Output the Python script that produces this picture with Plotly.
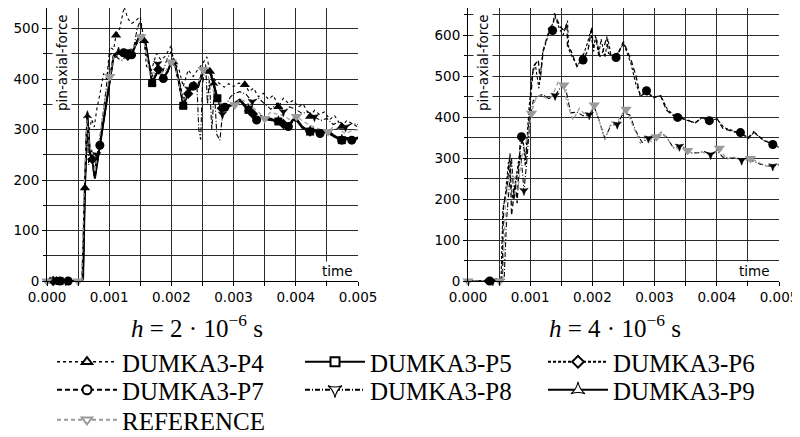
import plotly.graph_objects as go

# ---------------- data (time in ms, force values) ----------------
# left panel: h = 2e-6 s
L_P4_T = [0, 0.05, 0.3, 0.56, 0.61, 0.64, 0.68, 0.72, 0.76, 0.80, 0.85, 0.91, 0.96, 1.01, 1.07, 1.11, 1.17, 1.24, 1.30, 1.36,
          1.42, 1.50, 1.56, 1.60, 1.68, 1.76, 1.83, 1.90, 2.0, 2.03, 2.12, 2.19, 2.27, 2.35, 2.43, 2.50, 2.57, 2.62, 2.70, 2.78,
          2.85, 2.92, 3.0, 3.08, 3.18, 3.25, 3.32, 3.40, 3.48, 3.56, 3.64, 3.72, 3.80, 3.88, 3.96, 4.04, 4.12, 4.23, 4.30, 4.38,
          4.46, 4.55, 4.62, 4.74, 4.82, 4.90, 5.0]
L_P4_V = [0, 0, 0, 0, 184, 330, 300, 320, 305, 340, 370, 411, 400, 464, 458, 487, 500, 543, 520, 510,
          515, 524, 476, 425, 418, 451, 438, 445, 467, 434, 420, 385, 418, 405, 420, 430, 444, 415, 398, 391,
          384, 391, 385, 392, 389, 375, 382, 365, 372, 360, 368, 345, 362, 352, 358, 345, 350, 326, 338, 330,
          335, 320, 328, 306, 318, 312, 305]
L_P4_M = [0.05, 0.61, 1.11, 1.56, 2.03, 2.62, 3.18, 3.72, 4.23, 4.74]

L_P5_T = [0, 0.2, 0.4, 0.56, 0.58, 0.61, 0.65, 0.69, 0.73, 0.77, 0.85, 0.96, 1.07, 1.15, 1.23, 1.30, 1.36, 1.43, 1.50, 1.58,
          1.69, 1.79, 1.87, 1.94, 2.0, 2.06, 2.13, 2.19, 2.27, 2.35, 2.43, 2.51, 2.62, 2.68, 2.74, 2.81, 2.88, 2.99, 3.10, 3.24,
          3.31, 3.37, 3.44, 3.50, 3.60, 3.67, 3.72, 3.80, 3.88, 3.95, 4.01, 4.10, 4.17, 4.23, 4.31, 4.39, 4.46, 4.52, 4.60, 4.68,
          4.74, 4.82, 4.90, 5.0]
L_P5_V = [0, 0, 0, 0, 5, 185, 325, 253, 240, 203, 268, 358, 445, 452, 455, 450, 448, 470, 487, 474,
          392, 418, 401, 415, 434, 428, 390, 347, 372, 388, 385, 418, 415, 390, 362, 339, 344, 349, 358, 339,
          330, 318, 325, 322, 320, 316, 316, 312, 306, 318, 320, 305, 299, 296, 298, 292, 296, 296, 288, 282,
          279, 282, 279, 283]
L_P5_M = [0.2, 1.69, 2.19, 2.74, 3.24, 3.72, 4.23, 4.74]

L_P6_T = [0, 0.1, 0.3, 0.56, 0.58, 0.61, 0.65, 0.69, 0.73, 0.77, 0.85, 0.96, 1.07, 1.15, 1.23, 1.30, 1.36, 1.43, 1.50, 1.58,
          1.69, 1.79, 1.87, 1.94, 2.0, 2.06, 2.13, 2.19, 2.27, 2.35, 2.43, 2.51, 2.62, 2.68, 2.74, 2.81, 2.88, 2.99, 3.10, 3.24,
          3.31, 3.37, 3.44, 3.50, 3.60, 3.67, 3.72, 3.80, 3.88, 3.95, 4.01, 4.10, 4.17, 4.23, 4.31, 4.39, 4.46, 4.52, 4.60, 4.68,
          4.74, 4.82, 4.90, 5.0]
L_P6_V = [0, 0, 0, 0, 4, 183, 318, 250, 241, 206, 266, 352, 440, 448, 453, 446, 447, 466, 482, 470,
          396, 419, 403, 417, 431, 425, 386, 350, 371, 389, 386, 414, 412, 386, 361, 342, 346, 352, 357, 338,
          331, 320, 324, 321, 319, 317, 315, 311, 307, 315, 317, 304, 298, 296, 297, 293, 295, 293, 286, 282,
          280, 283, 281, 284]
L_P6_M = [0.1, 0.73, 1.30, 1.79, 2.27, 2.81, 3.31, 3.80, 4.23]

L_P7_T = [0, 0.21, 0.34, 0.56, 0.58, 0.61, 0.65, 0.69, 0.73, 0.77, 0.85, 0.96, 1.07, 1.15, 1.23, 1.30, 1.36, 1.43, 1.50, 1.58,
          1.69, 1.79, 1.87, 1.94, 2.0, 2.06, 2.13, 2.19, 2.27, 2.35, 2.43, 2.51, 2.62, 2.68, 2.74, 2.81, 2.86, 2.99, 3.10, 3.24,
          3.31, 3.37, 3.44, 3.50, 3.60, 3.67, 3.72, 3.80, 3.88, 3.95, 4.01, 4.10, 4.17, 4.23, 4.31, 4.39, 4.46, 4.52, 4.60, 4.68,
          4.74, 4.82, 4.90, 5.0]
L_P7_V = [0, 0, 0, 0, 3, 180, 322, 255, 242, 205, 269, 355, 443, 450, 452, 449, 448, 468, 485, 472,
          394, 416, 401, 414, 432, 426, 388, 349, 370, 386, 384, 416, 413, 388, 360, 341, 344, 350, 356, 337,
          328, 319, 323, 320, 318, 315, 314, 310, 306, 316, 318, 303, 298, 295, 296, 292, 294, 294, 287, 281,
          279, 281, 279, 282]
L_P7_M = [0.21, 0.34, 0.85, 1.23, 1.36, 1.87, 2.35, 2.86, 3.37, 3.88, 4.39, 4.74, 4.90]

L_P8_T = [0, 0.3, 0.56, 0.60, 0.64, 0.67, 0.72, 0.75, 0.80, 0.87, 0.95, 1.01, 1.07, 1.15, 1.22, 1.30, 1.38, 1.45, 1.50, 1.56,
          1.62, 1.70, 1.78, 1.85, 1.93, 2.0, 2.06, 2.13, 2.20, 2.28, 2.36, 2.41, 2.44, 2.47, 2.50, 2.55, 2.58, 2.61, 2.65, 2.69,
          2.73, 2.78, 2.82, 2.88, 2.95, 3.02, 3.10, 3.20, 3.30, 3.40, 3.50, 3.60, 3.70, 3.80, 3.90, 4.0, 4.10, 4.20, 4.30, 4.40,
          4.50, 4.60, 4.70, 4.80, 4.90, 5.0]
L_P8_V = [0, 0, 0, 170, 325, 230, 260, 207, 250, 300, 380, 450, 450, 440, 437, 455, 452, 500, 515, 480,
          440, 405, 430, 410, 440, 455, 430, 390, 360, 380, 395, 390, 300, 280, 390, 430, 350, 400, 300, 380,
          290, 279, 330, 350, 365, 372, 375, 370, 355, 362, 350, 340, 352, 335, 345, 340, 332, 335, 325, 318,
          322, 310, 316, 305, 312, 310]
L_P8_M = [0.3, 0.80, 1.30, 1.78, 2.28, 2.82, 3.30, 3.80, 4.30, 4.80]

L_P9_T = [0, 0.15, 0.35, 0.56, 0.58, 0.61, 0.65, 0.69, 0.73, 0.77, 0.85, 0.96, 1.07, 1.15, 1.23, 1.30, 1.36, 1.43, 1.50, 1.58,
          1.69, 1.79, 1.87, 1.94, 2.0, 2.06, 2.13, 2.19, 2.27, 2.35, 2.43, 2.51, 2.62, 2.68, 2.74, 2.81, 2.88, 2.99, 3.10, 3.24,
          3.31, 3.37, 3.44, 3.50, 3.60, 3.67, 3.72, 3.80, 3.88, 3.95, 4.01, 4.10, 4.17, 4.23, 4.31, 4.39, 4.46, 4.52, 4.60, 4.68,
          4.74, 4.82, 4.90, 5.0]
L_P9_V = [0, 0, 0, 0, 6, 188, 328, 256, 243, 204, 270, 360, 447, 454, 456, 452, 450, 472, 488, 476,
          393, 420, 402, 416, 436, 430, 392, 348, 374, 390, 387, 420, 417, 392, 364, 340, 345, 351, 360, 341,
          332, 321, 327, 324, 322, 318, 318, 314, 308, 320, 322, 307, 301, 298, 300, 294, 298, 298, 290, 284,
          281, 284, 281, 285]
L_P9_M = [0.15, 0.65, 1.15, 1.69, 2.19, 2.68, 3.24, 3.72, 4.23, 4.74]

L_REF_T = [0, 0.5, 0.56, 0.6, 0.64, 0.68, 0.73, 0.77, 0.85, 0.93, 1.01, 1.07, 1.15, 1.23, 1.30, 1.38, 1.45, 1.51, 1.58, 1.66,
           1.74, 1.82, 1.90, 2.0, 2.06, 2.13, 2.20, 2.28, 2.36, 2.43, 2.51, 2.58, 2.66, 2.74, 2.82, 2.92, 3.02, 3.10, 3.20, 3.30,
           3.40, 3.50, 3.60, 3.70, 3.80, 3.90, 4.01, 4.10, 4.20, 4.30, 4.40, 4.52, 4.60, 4.70, 4.80, 4.90, 5.0]
L_REF_V = [0, 0, 0, 190, 320, 270, 250, 215, 290, 360, 405, 445, 455, 450, 455, 462, 470, 484, 465, 405,
           420, 410, 415, 434, 425, 385, 355, 380, 395, 390, 419, 410, 380, 360, 345, 350, 349, 360, 355, 345,
           335, 322, 335, 330, 328, 320, 326, 318, 310, 305, 300, 296, 305, 300, 292, 298, 300]
L_REF_M = [0, 0.5, 1.01, 1.51, 2.0, 2.51, 3.02, 3.50, 4.01, 4.52]

# right panel: h = 4e-6 s
R_P6_T = [0, 0.3, 0.53, 0.56, 0.60, 0.65, 0.68, 0.72, 0.78, 0.82, 0.88, 0.92, 0.98, 1.03, 1.08, 1.14, 1.20, 1.27, 1.33, 1.40,
          1.47, 1.53, 1.60, 1.62, 1.68, 1.76, 1.84, 1.92, 1.97, 2.02, 2.05, 2.10, 2.14, 2.20, 2.25, 2.30, 2.40, 2.50, 2.62, 2.70,
          2.78, 2.88, 2.98, 3.10, 3.20, 3.30, 3.40, 3.52, 3.65, 3.76, 3.88, 4.0, 4.12, 4.27, 4.38, 4.50, 4.60, 4.75, 4.90, 5.0]
R_P6_V = [0, 0, 0, 170, 210, 290, 250, 200, 260, 300, 360, 280, 420, 500, 530, 470, 555, 590, 615, 645,
          615, 600, 635, 565, 545, 525, 545, 580, 610, 560, 600, 550, 590, 545, 590, 550, 550, 580, 530, 480,
          452, 460, 448, 452, 420, 405, 400, 392, 386, 398, 392, 395, 374, 365, 360, 350, 362, 343, 334, 326]
R_P6_M = [0.3, 1.33, 1.84, 2.40, 2.88, 3.40, 3.88, 4.38, 4.90]

R_P7_T = [0, 0.35, 0.51, 0.55, 0.57, 0.63, 0.675, 0.70, 0.76, 0.79, 0.84, 0.86, 0.93, 0.97, 1.05, 1.13, 1.16, 1.21, 1.29, 1.36,
          1.39, 1.48, 1.55, 1.59, 1.60, 1.66, 1.75, 1.85, 1.93, 1.99, 2.01, 2.07, 2.12, 2.17, 2.23, 2.26, 2.38, 2.50, 2.63, 2.70,
          2.77, 2.87, 2.98, 3.09, 3.19, 3.28, 3.37, 3.52, 3.65, 3.76, 3.88, 4.0, 4.10, 4.27, 4.38, 4.51, 4.59, 4.75, 4.90, 5.0]
R_P7_V = [0, 0, 0, 5, 181, 230, 311, 160, 238, 190, 344, 352, 300, 376, 523, 539, 490, 563, 604, 611,
          653, 620, 610, 628, 572, 560, 523, 539, 563, 620, 572, 588, 547, 560, 596, 555, 545, 584, 535, 500,
          450, 464, 446, 454, 417, 405, 399, 393, 385, 399, 391, 397, 372, 364, 362, 348, 364, 344, 333, 328]
R_P7_M = [0.35, 0.86, 1.36, 1.85, 2.38, 2.87, 3.37, 3.88, 4.38, 4.90]

R_P8_T = [0, 0.4, 0.58, 0.62, 0.66, 0.70, 0.74, 0.80, 0.85, 0.90, 0.95, 1.00, 1.05, 1.12, 1.20, 1.30, 1.40, 1.50, 1.57, 1.65,
          1.75, 1.85, 1.95, 2.03, 2.10, 2.20, 2.30, 2.40, 2.50, 2.60, 2.70, 2.80, 2.90, 3.00, 3.10, 3.20, 3.30, 3.40, 3.50, 3.60,
          3.70, 3.80, 3.90, 4.00, 4.10, 4.20, 4.30, 4.40, 4.50, 4.60, 4.70, 4.80, 4.90, 5.0]
R_P8_V = [0, 0, 0, 150, 230, 300, 200, 270, 310, 220, 300, 400, 440, 450, 455, 445, 452, 475, 470, 410,
          412, 403, 405, 425, 395, 348, 380, 382, 410, 405, 365, 338, 348, 345, 362, 350, 325, 328, 322, 312,
          313, 316, 308, 318, 302, 300, 300, 294, 296, 292, 285, 281, 280, 284]
R_P8_M = [0.4, 0.90, 1.40, 1.95, 2.40, 2.90, 3.40, 3.90, 4.40, 4.90]

R_REF_T = [0, 0.51, 0.56, 0.60, 0.65, 0.70, 0.75, 0.80, 0.86, 0.92, 0.97, 1.02, 1.08, 1.16, 1.26, 1.35, 1.45, 1.54, 1.59, 1.69,
           1.79, 1.91, 1.96, 2.03, 2.12, 2.20, 2.31, 2.39, 2.44, 2.54, 2.66, 2.77, 2.87, 2.95, 3.03, 3.11, 3.22, 3.33, 3.46, 3.53,
           3.62, 3.76, 3.89, 3.97, 4.04, 4.16, 4.27, 4.40, 4.54, 4.64, 4.80, 4.91, 5.0]
R_REF_V = [0, 0, 5, 180, 240, 265, 250, 220, 300, 330, 360, 409, 441, 454, 446, 450, 485, 478, 433, 393,
           421, 401, 409, 429, 385, 344, 389, 376, 401, 419, 376, 336, 352, 340, 352, 364, 344, 320, 328, 318,
           310, 315, 307, 312, 324, 297, 303, 291, 299, 291, 280, 279, 285]
R_REF_M = [0, 0.51, 1.02, 1.54, 2.03, 2.54, 3.03, 3.53, 4.04, 4.54]

SERIES_NAMES = ["DUMKA3-P4", "DUMKA3-P5", "DUMKA3-P6", "DUMKA3-P7", "DUMKA3-P8", "DUMKA3-P9", "REFERENCE"]
X_TICKS = [0.000, 0.001, 0.002, 0.003, 0.004, 0.005]
TITLES = ["<i>h</i> = 2 · 10<sup>−6</sup> s", "<i>h</i> = 4 · 10<sup>−6</sup> s"]

# ---------------- styles ----------------
GRAY = "#9a9a9a"
SERIF = "Liberation Serif, DejaVu Serif, serif"
STYLE = {
    "DUMKA3-P4": dict(dash="dot", width=1.1, color="black", symbol="triangle-up", size=9, lw=1.6),
    "DUMKA3-P5": dict(dash="solid", width=2.0, color="black", symbol="square", size=8, lw=2.2),
    "DUMKA3-P6": dict(dash="3px,2px", width=1.1, color="black", symbol="diamond", size=8, lw=2.0),
    "DUMKA3-P7": dict(dash="5px,3px", width=1.3, color="black", symbol="circle", size=9, lw=2.2),
    "DUMKA3-P8": dict(dash="5px,2px,1px,2px", width=1.1, color="black", symbol="star-triangle-down", size=6, lw=1.8),
    "DUMKA3-P9": dict(dash="solid", width=1.5, color="black", symbol="star-triangle-up", size=6, lw=2.2),
    "REFERENCE": dict(dash="4px,3px", width=1.2, color=GRAY, symbol="triangle-down", size=10, lw=1.8),
}

# The page body has an 8px default margin: the figure is sized to fit the
# window and reference pixel positions are mapped accordingly.
OFF = 8
W, H = 800 - OFF, 437 - OFF
MS = 1e-3  # ms -> s
PLOT_TOP, PLOT_BOTTOM = 8, 281          # pixel rows of the plot area
Y_SCALE_L, Y_SCALE_R = 0.5048, 0.41     # pixels per force unit
Y_TOP_L = (PLOT_BOTTOM - PLOT_TOP) / Y_SCALE_L
Y_TOP_R = (PLOT_BOTTOM - PLOT_TOP) / Y_SCALE_R


def fx(p):
    return (p - OFF) / W


def fy(p):
    return min(1.0, max(0.0, 1 - (p - OFF) / H))


fig = go.Figure()

LEFT = [("DUMKA3-P4", L_P4_T, L_P4_V, L_P4_M), ("DUMKA3-P5", L_P5_T, L_P5_V, L_P5_M),
        ("DUMKA3-P6", L_P6_T, L_P6_V, L_P6_M), ("DUMKA3-P7", L_P7_T, L_P7_V, L_P7_M),
        ("DUMKA3-P8", L_P8_T, L_P8_V, L_P8_M), ("DUMKA3-P9", L_P9_T, L_P9_V, L_P9_M),
        ("REFERENCE", L_REF_T, L_REF_V, L_REF_M)]
RIGHT = [("DUMKA3-P6", R_P6_T, R_P6_V, R_P6_M), ("DUMKA3-P7", R_P7_T, R_P7_V, R_P7_M),
         ("DUMKA3-P8", R_P8_T, R_P8_V, R_P8_M), ("REFERENCE", R_REF_T, R_REF_V, R_REF_M)]

for series, xa, ya in [(LEFT, "x", "y"), (RIGHT, "x2", "y2")]:
    for name, T, V, M in series:
        st = STYLE[name]
        fig.add_trace(go.Scatter(x=[t * MS for t in T], y=V, mode="lines", xaxis=xa, yaxis=ya,
                                 line=dict(color=st["color"], width=st["width"], dash=st["dash"]),
                                 showlegend=False, hoverinfo="skip"))
    for name, T, V, M in series:
        st = STYLE[name]
        mv = [V[T.index(t)] for t in M]
        msize = st["size"] - (3 if (xa == "x2" and name == "DUMKA3-P6") else 0)
        fig.add_trace(go.Scatter(x=[t * MS for t in M], y=mv, mode="markers", xaxis=xa, yaxis=ya,
                                 marker=dict(symbol=st["symbol"], size=msize, color=st["color"],
                                             line=dict(width=0.6 if name in ("DUMKA3-P8", "DUMKA3-P9") else 0,
                                                       color=st["color"])),
                                 cliponaxis=False, showlegend=False, hoverinfo="skip"))

# legend entries (open markers), one legend per entry for placement
LEG_POS = [(122, 362), (370, 362), (613, 362), (122, 390), (370, 390), (613, 390), (122, 420)]
ITEM_W = 60
legends = {}
for i, name in enumerate(SERIES_NAMES):
    st = STYLE[name]
    lname = "legend" if i == 0 else f"legend{i + 1}"
    star = name in ("DUMKA3-P8", "DUMKA3-P9")
    fig.add_trace(go.Scatter(x=[None], y=[None], mode="lines+markers", name=name, legend=lname,
                             line=dict(color=st["color"], width=st["lw"], dash=st["dash"]),
                             marker=dict(symbol=st["symbol"], size=10 if star else 9, color="white",
                                         line=dict(width=1.1 if star else 2, color=st["color"]))))
    tx, ty = LEG_POS[i]
    legends[lname] = dict(x=fx(tx - ITEM_W - 10), y=fy(ty), xanchor="left", yanchor="middle",
                          orientation="h", bgcolor="rgba(0,0,0,0)", borderwidth=0, itemwidth=ITEM_W,
                          font=dict(family=SERIF, size=25, color="black"),
                          itemclick=False, itemdoubleclick=False)

tickfont = dict(family="DejaVu Sans", size=13.5, color="black")
GRID = "#2b2b2b"


def xaxis(dom, anchor):
    return dict(domain=dom, anchor=anchor, range=[0, 0.005], tickvals=X_TICKS, tickformat=".3f",
                automargin=False,
                ticks="outside", ticklen=4, tickcolor="black", showline=True, linecolor="black", linewidth=1,
                showgrid=True, gridcolor=GRID, gridwidth=1, zeroline=False, tickfont=tickfont,
                minor=dict(dtick=0.0005, tick0=0, showgrid=True, gridcolor=GRID, gridwidth=1,
                           ticks="outside", ticklen=4, tickcolor="black"))


def yaxis(top, anchor):
    return dict(domain=[fy(PLOT_BOTTOM), fy(PLOT_TOP)], anchor=anchor, range=[0, top], dtick=100, tick0=0,
                automargin=False,
                ticks="outside", ticklen=4, tickcolor="black", showline=True, linecolor="black", linewidth=1,
                showgrid=True, gridcolor=GRID, gridwidth=1, zeroline=False, tickfont=tickfont,
                minor=dict(dtick=50, tick0=0, showgrid=True, gridcolor=GRID, gridwidth=1,
                           ticks="outside", ticklen=3, tickcolor="black"))


annotations = []
for (cx, ylab_x, time_x), title in zip([(197, 62, 337), (615, 483, 754)], TITLES):
    annotations.append(dict(x=fx(cx), y=fy(326), xref="paper", yref="paper", text=title, showarrow=False,
                            xanchor="center", yanchor="middle",
                            font=dict(family=SERIF, size=25, color="black")))
    annotations.append(dict(x=fx(ylab_x), y=fy(62), xref="paper", yref="paper", text="pin-axial-force",
                            textangle=-90, showarrow=False, xanchor="center", yanchor="middle",
                            bgcolor="white", borderpad=1,
                            font=dict(family="DejaVu Sans", size=13.5, color="black")))
    annotations.append(dict(x=fx(time_x), y=fy(271), xref="paper", yref="paper", text="time",
                            showarrow=False, xanchor="center", yanchor="middle", bgcolor="white", borderpad=1,
                            font=dict(family="DejaVu Sans", size=13.5, color="black")))

fig.update_layout(
    width=W, height=H, margin=dict(l=0, r=0, t=0, b=0, autoexpand=False),
    paper_bgcolor="white", plot_bgcolor="white",
    xaxis=xaxis([fx(47), fx(358)], "y"), yaxis=yaxis(Y_TOP_L, "x"),
    xaxis2=xaxis([fx(468), fx(779)], "y2"), yaxis2=yaxis(Y_TOP_R, "x2"),
    annotations=annotations,
    **legends,
)

fig.write_html("out.html")
